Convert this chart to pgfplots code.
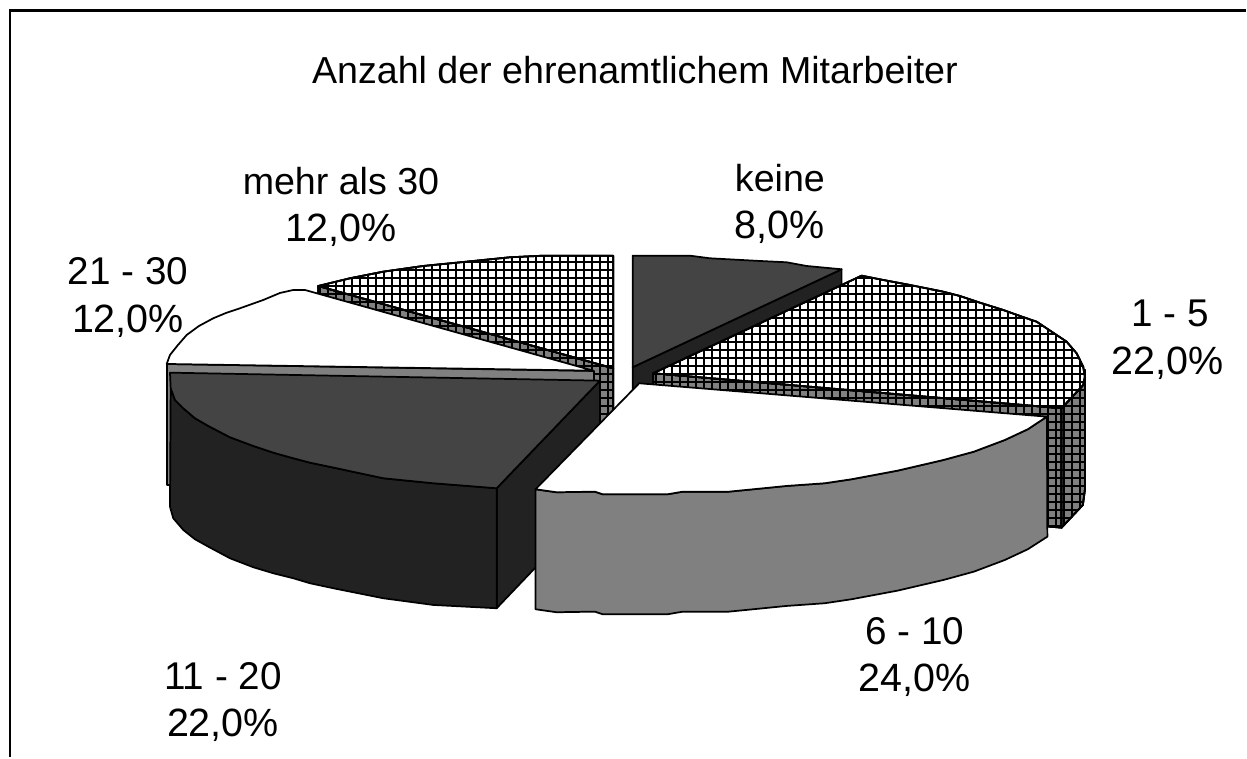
\documentclass[border=0pt]{standalone}
\usepackage{fontspec}
\setmainfont{Liberation Sans}
\usepackage{pgfplots}
\pgfplotsset{compat=1.18}
\usetikzlibrary{patterns.meta}
\tikzset{
 face/.style={draw=black,line width=1.3pt,line join=round,mark=none},
 grida/.style={postaction={pattern={Lines[angle=0,distance=6pt,line width=1.3pt]},pattern color=black},
              postaction={pattern={Lines[angle=90,distance=6pt,line width=1.3pt]},pattern color=black}},
 lab/.style={anchor=base,font=\fontsize{29}{32}\selectfont,inner sep=0pt},
 labs/.style={anchor=base,font=\fontsize{28.2}{32}\selectfont,inner sep=0pt},
 labn/.style={anchor=base,font=\fontsize{29.6}{32}\selectfont,inner sep=0pt}
}
\definecolor{dk}{HTML}{444444}
\definecolor{dkk}{HTML}{222222}
\definecolor{gr}{HTML}{808080}
\begin{document}
\begin{tikzpicture}
\begin{axis}[scale only axis,width=935.25pt,height=568.5pt,hide axis,clip=false,
  xmin=0,xmax=1247,ymin=0,ymax=758,y dir=reverse]
\path (axis cs:0,0) rectangle (axis cs:1247,758);
% frame
\addplot[black,line width=1.7pt,mark=none] coordinates {(10,757)(10,10.5)(1246,10.5)};
% mehr als 30
\addplot[face,fill=gr,grida] coordinates {(318.3,286)(613.3,368.3)(613.3,488)(318.3,406)} --cycle;
\addplot[face,fill=white,grida] coordinates {(318.3,286)(350,278.3)(383.3,271.7)(423.3,266)(466.7,261.7)(510,257.3)(543.3,255.7)(613.3,255.7)(613.3,368.3)} --cycle;
% 21 - 30
\addplot[face,fill=gr] coordinates {(167,364)(594,371)(594,490)(167,485)} --cycle;
\addplot[face,fill=white] coordinates {(166.7,364)(170,355)(178,345)(186.7,335)(199,326)(213.3,318.3)(226,313)(240,308.3)(263.3,300)(280,293)(293.3,290)(305,290)(593.3,370.7)} --cycle;
% 11 - 20
\addplot[face,fill=dkk] coordinates {(496.7,488.3)(600,380.7)(600,500)(496.7,608.3)} --cycle;
\addplot[face,fill=dkk] coordinates {(170.7,388.3)(175,400)(183.3,408.3)(195,418.3)(208.3,426)(230,437.3)(253.3,446)(273.3,452.7)(293.3,458.3)(310,462.7)(336.7,468.3)(383.3,478.3)(433.3,483.3)(496.7,488.3)(496.7,608.3)(433.3,605)(383.3,598.3)(336.7,589)(310,583.3)(293.3,578.3)(273.3,573.3)(253.3,567.3)(230,558.3)(208.3,546.7)(195,539.3)(183.3,530)(173.3,518.3)(170,506.7)} --cycle;
\addplot[face,fill=dk] coordinates {(170,372.7)(600,380.7)(496.7,488.3)(433.3,483.3)(383.3,478.3)(336.7,468.3)(310,462.7)(293.3,458.3)(273.3,452.7)(253.3,446)(230,437.3)(208.3,426)(195,418.3)(183.3,408.3)(175,400)(170.7,388.3)} --cycle;
% keine
\addplot[face,fill=dkk] coordinates {(632.7,367.3)(841.7,269.3)(841.7,389)(632.7,487)} --cycle;
\addplot[face,fill=dk] coordinates {(632.7,255.7)(690,255.7)(710,258.3)(760,261)(786.7,262.3)(806.7,266)(841.7,269.3)(632.7,367.3)} --cycle;
% 1 - 5
\addplot[face,fill=gr,grida] coordinates {(653.3,373.3)(1061.7,408.3)(1061.7,527.7)(653.3,493)} --cycle;
\addplot[face,fill=gr,grida] coordinates {(1061.7,408.3)(1083.3,385)(1085,370)(1085,490)(1083,505)(1061.7,527.7)} --cycle;
\addplot[face,fill=white,grida] coordinates {(653.3,373.3)(861.7,275.7)(883.3,280)(910,285)(943.3,291.7)(960,296)(980,302.7)(1003.3,310)(1020,316)(1036.7,321.7)(1053.3,332.7)(1066.7,341.7)(1076.7,353.3)(1083.3,366.7)(1085,376.7)(1083.3,385)(1061.7,408.3)} --cycle;
% 6 - 10
\addplot[face,fill=gr] coordinates {(535.6,489.3)(556.6,492.3)(595,491.7)(602.6,494.3)(667.7,494.3)(683,491.7)(729,491.7)(763.5,488.3)(786.5,486)(824.8,483.3)(851.6,479.3)(897.6,470.7)(943.6,460)(974,451.7)(1005,440)(1027.9,429.3)(1047,416.7)(1047.5,536.7)(1027.9,549.3)(1005,560)(974,571.7)(943.6,580)(897.6,590.7)(851.6,599.3)(824.8,603.3)(786.5,606)(763.5,608.3)(729,611.7)(683,611.7)(667.7,614.3)(602.6,614.3)(595,611.7)(556.6,612.3)(535.6,609.3)} --cycle;
\addplot[face,fill=white] coordinates {(639.3,383.3)(535.6,489.3)(556.6,492.3)(595,491.7)(602.6,494.3)(667.7,494.3)(683,491.7)(729,491.7)(763.5,488.3)(786.5,486)(824.8,483.3)(851.6,479.3)(897.6,470.7)(943.6,460)(974,451.7)(1005,440)(1027.9,429.3)(1047,416.7)} --cycle;
% texts
\node[labs] at (axis cs:635,84) {Anzahl der ehrenamtlichem Mitarbeiter};
\node[labs] at (axis cs:780,192) {keine};
\node[labn] at (axis cs:780,239) {8,0\%};
\node[lab] at (axis cs:1170,327) {1 - 5};
\node[labn] at (axis cs:1168,375) {22,0\%};
\node[lab] at (axis cs:915,645) {6 - 10};
\node[labn] at (axis cs:915,692) {24,0\%};
\node[lab] at (axis cs:223,690) {11 - 20};
\node[labn] at (axis cs:223,737) {22,0\%};
\node[lab] at (axis cs:128,285) {21 - 30};
\node[labn] at (axis cs:128,333) {12,0\%};
\node[labs] at (axis cs:341,195) {mehr als 30};
\node[labn] at (axis cs:341,242) {12,0\%};
\end{axis}
\end{tikzpicture}
\end{document}
